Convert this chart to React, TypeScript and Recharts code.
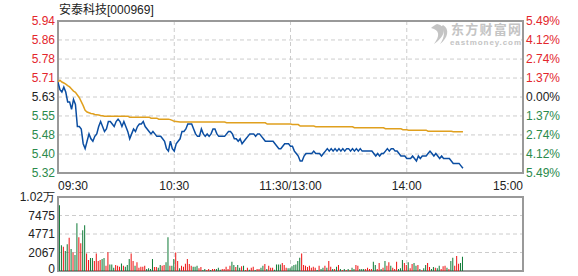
import React from 'react';
import { ComposedChart, Line, Bar, Cell, XAxis, YAxis, CartesianGrid, ReferenceArea } from 'recharts';

const stockName = '安泰科技';
const stockCode = '000969';
const prevClose = 5.63;
const pctLevels = [-5.49, -4.12, -2.74, -1.37, 0, 1.37, 2.74, 4.12, 5.49];
const timeTicks = [0, 60, 120, 180, 240];
const timeLabels = ['09:30', '10:30', '11:30/13:00', '14:00', '15:00'];
const volTicks = [0, 2550, 5100, 7650, 10200];
const volTickLabels = ['0', '2067', '4771', '7475', '1.02万'];

// one point per minute, 09:30 .. 14:29
const price = [
  5.69, 5.66, 5.65, 5.67, 5.65, 5.61, 5.61, 5.58, 5.62, 5.60,
  5.51, 5.51, 5.50, 5.44, 5.42, 5.45, 5.48, 5.46, 5.45, 5.47,
  5.48, 5.51, 5.53, 5.51, 5.49, 5.50, 5.53, 5.53, 5.52, 5.51,
  5.53, 5.54, 5.53, 5.51, 5.53, 5.51, 5.49, 5.46, 5.48, 5.50,
  5.49, 5.51, 5.52, 5.52, 5.53, 5.51, 5.50, 5.49, 5.48, 5.49,
  5.48, 5.47, 5.47, 5.47, 5.46, 5.45, 5.42, 5.41, 5.45, 5.42,
  5.41, 5.44, 5.45, 5.46, 5.49, 5.49, 5.50, 5.52, 5.52, 5.52,
  5.50, 5.48, 5.47, 5.47, 5.50, 5.48, 5.47, 5.48, 5.47, 5.48,
  5.50, 5.50, 5.48, 5.47, 5.47, 5.47, 5.47, 5.48, 5.49, 5.49,
  5.48, 5.46, 5.46, 5.45, 5.46, 5.44, 5.45, 5.46, 5.47, 5.48,
  5.48, 5.48, 5.47, 5.48, 5.48, 5.47, 5.46, 5.45, 5.45, 5.45,
  5.45, 5.45, 5.44, 5.43, 5.42, 5.42, 5.43, 5.44, 5.44, 5.44,
  5.43, 5.43, 5.41, 5.40, 5.39, 5.37, 5.37, 5.39, 5.40, 5.40,
  5.40, 5.40, 5.41, 5.40, 5.40, 5.40, 5.39, 5.40, 5.41, 5.42,
  5.41, 5.42, 5.41, 5.42, 5.41, 5.42, 5.41, 5.42, 5.41, 5.42,
  5.42, 5.41, 5.42, 5.41, 5.42, 5.41, 5.42, 5.41, 5.41, 5.41,
  5.41, 5.41, 5.41, 5.40, 5.39, 5.40, 5.39, 5.40, 5.40, 5.41,
  5.42, 5.41, 5.42, 5.42, 5.41, 5.41, 5.40, 5.39, 5.39, 5.39,
  5.38, 5.38, 5.38, 5.39, 5.38, 5.37, 5.39, 5.38, 5.39, 5.39,
  5.39, 5.40, 5.41, 5.40, 5.39, 5.40, 5.39, 5.38, 5.39, 5.38,
  5.38, 5.38, 5.38, 5.37, 5.36, 5.36, 5.36, 5.36, 5.35, 5.34,
];

const avgPrice = [
  5.691, 5.698, 5.691, 5.687, 5.682, 5.676, 5.671, 5.663, 5.654, 5.649,
  5.638, 5.627, 5.611, 5.595, 5.576, 5.569, 5.566, 5.563, 5.562, 5.559,
  5.558, 5.557, 5.555, 5.554, 5.552, 5.552, 5.552, 5.552, 5.552, 5.552,
  5.552, 5.552, 5.552, 5.552, 5.552, 5.552, 5.552, 5.548, 5.548, 5.548,
  5.548, 5.548, 5.548, 5.548, 5.548, 5.548, 5.548, 5.548, 5.544, 5.544,
  5.544, 5.544, 5.540, 5.540, 5.540, 5.540, 5.540, 5.540, 5.538, 5.535,
  5.531, 5.530, 5.529, 5.528, 5.528, 5.528, 5.528, 5.528, 5.528, 5.528,
  5.528, 5.528, 5.528, 5.528, 5.528, 5.528, 5.528, 5.528, 5.528, 5.528,
  5.528, 5.528, 5.528, 5.528, 5.528, 5.528, 5.528, 5.525, 5.525, 5.525,
  5.525, 5.525, 5.525, 5.525, 5.525, 5.525, 5.525, 5.525, 5.525, 5.525,
  5.525, 5.525, 5.525, 5.525, 5.525, 5.525, 5.525, 5.525, 5.520, 5.520,
  5.520, 5.520, 5.520, 5.520, 5.520, 5.520, 5.520, 5.520, 5.520, 5.520,
  5.520, 5.518, 5.518, 5.518, 5.518, 5.512, 5.512, 5.512, 5.512, 5.512,
  5.512, 5.512, 5.512, 5.509, 5.509, 5.509, 5.509, 5.509, 5.509, 5.509,
  5.509, 5.509, 5.509, 5.509, 5.509, 5.509, 5.509, 5.509, 5.509, 5.509,
  5.509, 5.509, 5.509, 5.505, 5.505, 5.505, 5.505, 5.505, 5.505, 5.505,
  5.505, 5.505, 5.505, 5.505, 5.505, 5.505, 5.505, 5.505, 5.505, 5.501,
  5.501, 5.501, 5.501, 5.501, 5.501, 5.501, 5.501, 5.501, 5.497, 5.497,
  5.497, 5.495, 5.495, 5.495, 5.495, 5.495, 5.495, 5.495, 5.495, 5.495,
  5.495, 5.491, 5.491, 5.491, 5.491, 5.491, 5.491, 5.491, 5.491, 5.491,
  5.491, 5.491, 5.491, 5.491, 5.489, 5.489, 5.489, 5.489, 5.489, 5.489,
];

// volume per minute (no bar for the 09:30 point)
const volume = [
  null,
  9050, 3560, 3340, 2740, 3700, 4570, 3020, 2560, 2190, 6580,
  4660, 3840, 5620, 6310, 2420, 1510, 1780, 1780, 1370, 2420,
  1370, 1510, 1650, 1780, 730, 2600, 910, 910, 460, 820,
  730, 590, 1050, 730, 590, 820, 1650, 2420, 1370, 730,
  1190, 460, 590, 590, 730, 270, 370, 270, 1650, 550,
  550, 460, 820, 730, 820, 1190, 4660, 730, 730, 1650,
  2560, 1370, 370, 730, 590, 1010, 1650, 960, 730, 590,
  590, 730, 370, 550, 140, 270, 140, 270, 140, 270,
  270, 270, 460, 180, 270, 270, 590, 270, 730, 1280,
  820, 550, 820, 460, 640, 730, 140, 460, 180, 460,
  590, 140, 270, 270, 460, 730, 960, 270, 730, 460,
  460, 180, 910, 910, 910, 1100, 820, 460, 370, 370,
  640, 820, 910, 1370, 1830, 2420, 820, 730, 550, 730,
  460, 590, 460, 140, 730, 270, 460, 730, 460, 1370,
  590, 270, 270, 590, 820, 270, 140, 270, 140, 270,
  140, 460, 270, 820, 730, 270, 270, 270, 270, 460,
  270, 270, 1280, 820, 270, 1100, 270, 460, 1370, 730,
  1190, 730, 460, 270, 1280, 270, 370, 1510, 1100, 820,
  1190, 370, 960, 1100, 730, 820, 270, 90, 370, 820,
  1100, 550, 270, 550, 460, 370, 730, 270, 640, 730,
  460, 270, 1370, 1830, 730, 2060, 1010, 1100, 1970,
];

// R = up minute, G = down minute
const volDir = ('-' + [
  'GGRGGRGRGG', 'RRGGRRGGRR', 'RRGGRRGGGR', 'RRGRGGGRRG', 'RRRRRGGGGR',
  'RGGRRGGRGG', 'RRGRRRRRRG', 'GGRRGGRRGR', 'RGGGRRRRRG', 'GRGGRGRRGR',
  'RGRRGGRGRR', 'RGGGGRRRGG', 'GGGGGRRRRR', 'RRRGRGGRGR', 'RGRGRGRGRG',
  'RGGRRGGGRR', 'RRGGRRGRGR', 'RGRRRGGGRR', 'GRRGGRGRGG', 'RRGGRGGRRR',
  'GRGGRRRGG',
].join('')).split('');

const RED = '#e3262c';
const GREEN = '#2b8a4c';
const BAR_RED = '#ee1111';
const BAR_GREEN = '#0e7a36';
const GRID = '#cccccc';
const BORDER = '#999999';
const FONT = "'Liberation Sans', Arial, sans-serif";

const minutes = price.map((p, i) => ({
  t: i,
  price: p,
  avg: avgPrice[i],
  vol: volume[i],
  dir: volDir[i],
}));

const priceTicks = pctLevels.map((p) => prevClose * (1 + p / 100));
const priceDomain = [priceTicks[0], priceTicks[priceTicks.length - 1]];

const PriceTick = (props: any) => {
  const { x, y, payload, side } = props;
  const v = payload.value;
  const pct = (v / prevClose - 1) * 100;
  const color = Math.abs(pct) < 0.01 ? '#222' : pct > 0 ? RED : GREEN;
  const label = side === 'left' ? v.toFixed(2) : Math.abs(pct).toFixed(2) + '%';
  return (
    <text x={x} y={y} dy={4} textAnchor={side === 'left' ? 'end' : 'start'} fill={color} fontSize={12} fontFamily={FONT}>
      {label}
    </text>
  );
};

const TimeTick = (props: any) => {
  const { x, y, payload } = props;
  const idx = timeTicks.indexOf(payload.value);
  const anchor = idx === 0 ? 'start' : idx === timeTicks.length - 1 ? 'end' : 'middle';
  return (
    <text x={x} y={y + 17} textAnchor={anchor} fill="#222" fontSize={12} fontFamily={FONT}>
      {timeLabels[idx]}
    </text>
  );
};

const VolTick = (props: any) => {
  const { x, y, payload } = props;
  const idx = volTicks.indexOf(payload.value);
  return (
    <text x={x} y={y} dy={idx === 0 ? 2 : 4} textAnchor="end" fill="#222" fontSize={12} fontFamily={FONT}>
      {volTickLabels[idx]}
    </text>
  );
};

export default function App() {
  return (
    <div style={{ position: 'absolute', left: 0, top: 0, width: 578, height: 276, background: '#fff' }}>
      <div style={{ position: 'absolute', left: 0, top: 0 }}>
        <ComposedChart width={578} height={195} data={minutes} margin={{ top: 21, right: 0, bottom: 0, left: 0 }}>
          <CartesianGrid stroke={GRID} strokeDasharray="4 3" />
          <XAxis
            dataKey="t"
            type="number"
            domain={[0, 240]}
            ticks={timeTicks}
            interval={0}
            height={22}
            axisLine={false}
            tickLine={false}
            tickSize={0}
            tickMargin={0}
            tick={TimeTick}
            allowDataOverflow
          />
          <YAxis
            domain={priceDomain}
            ticks={priceTicks}
            interval={0}
            width={58}
            axisLine={false}
            tickLine={false}
            tickSize={0}
            tickMargin={3}
            tick={(p: any) => <PriceTick {...p} side="left" />}
            allowDataOverflow
          />
          <YAxis
            yAxisId="right"
            orientation="right"
            domain={priceDomain}
            ticks={priceTicks}
            interval={0}
            width={55}
            axisLine={false}
            tickLine={false}
            tickSize={0}
            tickMargin={3}
            tick={(p: any) => <PriceTick {...p} side="right" />}
            allowDataOverflow
          />
          <ReferenceArea x1={0} x2={240} y1={priceDomain[0]} y2={priceDomain[1]} fill="none" stroke={BORDER} strokeWidth={2} ifOverflow="visible" />
          <Line dataKey="avg" stroke="#e0a01e" strokeWidth={1.5} dot={false} isAnimationActive={false} />
          <Line dataKey="price" stroke="#0b4ea2" strokeWidth={1.5} dot={false} isAnimationActive={false} />
        </ComposedChart>
      </div>
      <div style={{ position: 'absolute', left: 0, top: 190 }}>
        <ComposedChart width={578} height={86} data={minutes} margin={{ top: 7, right: 55, bottom: 5, left: 0 }}>
          <CartesianGrid stroke={GRID} strokeDasharray="4 3" />
          <XAxis dataKey="t" type="number" domain={[0, 240]} ticks={timeTicks} interval={0} hide />
          <YAxis
            domain={[0, volTicks[volTicks.length - 1]]}
            ticks={volTicks}
            interval={0}
            width={58}
            axisLine={false}
            tickLine={false}
            tickSize={0}
            tickMargin={3}
            tick={VolTick}
          />
          <ReferenceArea x1={0} x2={240} y1={0} y2={volTicks[volTicks.length - 1]} fill="none" stroke={BORDER} strokeWidth={2} ifOverflow="visible" />
          <Bar dataKey="vol" barSize={1} isAnimationActive={false}>
            {minutes.map((m, i) => (
              <Cell key={i} fill={m.dir === 'R' ? BAR_RED : BAR_GREEN} />
            ))}
          </Bar>
        </ComposedChart>
      </div>
      <svg width={578} height={276} style={{ position: 'absolute', left: 0, top: 0, pointerEvents: 'none' }}>
        <text x={59} y={14} fontSize={12} fill="#222" fontFamily="'Liberation Sans', 'Noto Sans CJK SC', sans-serif">
          {stockName}[{stockCode}]
        </text>
        <rect x={424} y={22} width={97} height={24} fill="#fff" />
        <path d="M437 24 C447 26 446 36 434 44 C440 36 440 30 431 28 C433 26 435 25 437 24 Z" fill="#c4c4c4" />
        <path d="M443 25 C450 29 448 38 440 44 C445 37 445 31 441 27 Z" fill="#c4c4c4" />
        <text x={451} y={34} fontSize={13} fontWeight="bold" fill="#c4c4c4" fontFamily="'Noto Sans CJK SC', sans-serif" textLength={70}>
          东方财富网
        </text>
        <text x={450} y={45} fontSize={8} fontWeight="bold" fill="#c4c4c4" fontFamily={FONT} textLength={71}>
          eastmoney.com
        </text>
      </svg>
    </div>
  );
}
